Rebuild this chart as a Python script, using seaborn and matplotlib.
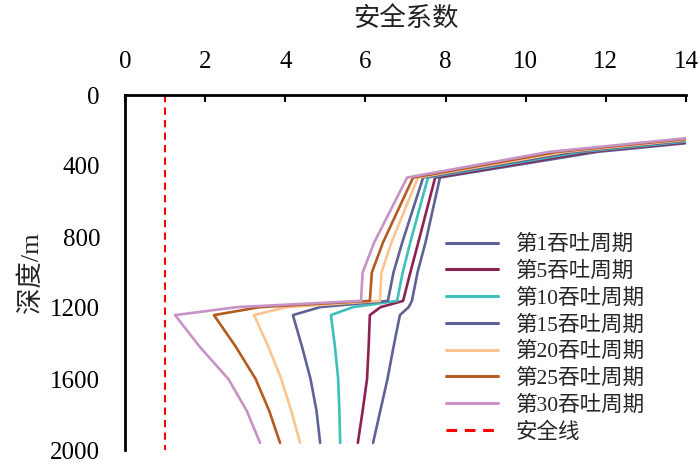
import numpy as np
import pandas as pd
import matplotlib
matplotlib.use("Agg")
import matplotlib.pyplot as plt
import seaborn as sns

# ---- data ----
depth = [230, 320, 465, 830, 1000, 1160, 1195, 1240, 1420, 1600, 1780, 1960]
series_names = ["第1吞吐周期", "第5吞吐周期", "第10吞吐周期", "第15吞吐周期",
                "第20吞吐周期", "第25吞吐周期", "第30吞吐周期"]
sf_c1 = [15.90, 11.80, 7.86, 7.50, 7.30, 7.16, 7.08, 6.86, 6.70, 6.55, 6.37, 6.19]
sf_c5 = [15.65, 11.60, 7.74, 7.32, 7.12, 6.94, 6.38, 6.11, 6.08, 6.04, 5.93, 5.81]
sf_c10 = [15.45, 11.40, 7.56, 7.12, 6.93, 6.79, 5.69, 5.14, 5.24, 5.32, 5.35, 5.37]
sf_c15 = [15.20, 11.20, 7.44, 6.92, 6.70, 6.56, 4.87, 4.19, 4.42, 4.63, 4.78, 4.87]
sf_c20 = [15.00, 11.00, 7.31, 6.65, 6.40, 6.36, 4.04, 3.22, 3.58, 3.90, 4.15, 4.37]
sf_c25 = [14.80, 10.80, 7.19, 6.44, 6.16, 6.11, 3.37, 2.22, 2.77, 3.26, 3.60, 3.87]
sf_c30 = [14.60, 10.60, 7.04, 6.22, 5.93, 5.89, 2.80, 1.25, 1.87, 2.58, 3.04, 3.37]
safety_x = [1, 1]
safety_depth = [0, 2000]
x_ticks = [0, 2, 4, 6, 8, 10, 12, 14]
y_ticks = [0, 400, 800, 1200, 1600, 2000]

colors = ["#5F6296", "#8E2154", "#3DC0BB", "#5F6296", "#FCC48F", "#B45B22", "#C793C6"]

all_sf = [sf_c1, sf_c5, sf_c10, sf_c15, sf_c20, sf_c25, sf_c30]
rows = []
for name, vals in zip(series_names, all_sf):
    for d, v in zip(depth, vals):
        rows.append({"series": name, "depth": d, "sf": v})
df = pd.DataFrame(rows)
df_safe = pd.DataFrame({"depth": safety_depth, "sf": safety_x, "series": "安全线"})

sns.set_theme(style="white")
plt.rcParams['font.family'] = ['Liberation Serif', 'Noto Sans CJK SC']
plt.rcParams['axes.unicode_minus'] = False

fig = plt.figure(figsize=(7, 4.69), dpi=100)
ax = fig.add_axes([125/700, 1-450/469, (686-125)/700, (450-95)/469])

sns.lineplot(data=df, x="sf", y="depth", hue="series", hue_order=series_names,
             palette=colors, sort=False, estimator=None, orient="y",
             linewidth=1.9, ax=ax)
sns.lineplot(data=df_safe, x="sf", y="depth", color="#FF0000", linestyle=(0, (3.5, 2.5)),
             linewidth=1.5, sort=False, estimator=None, orient="y", ax=ax, label="安全线")

ax.set_xlim(0, 14)
ax.set_ylim(2000, 0)
ax.set_xticks(x_ticks)
ax.set_yticks(y_ticks)
ax.set_xticklabels([str(t) for t in x_ticks])
ax.set_yticklabels([str(t) for t in y_ticks])

ax.xaxis.tick_top()
ax.xaxis.set_label_position("top")
ax.tick_params(axis="x", direction="in", length=5, width=1.5, pad=16, labelsize=18, colors="black")
ax.tick_params(axis="y", direction="in", length=5, width=1.5, pad=18, labelsize=18, colors="black")
for s in ["right", "bottom"]:
    ax.spines[s].set_visible(False)
for s in ["top", "left"]:
    ax.spines[s].set_visible(True)
    ax.spines[s].set_linewidth(2)
    ax.spines[s].set_color("black")

ax.set_xlabel("安全系数", fontsize=19, labelpad=18, color="#222222")
ax.set_ylabel("深度/m", fontsize=19, labelpad=5, color="#222222")

leg = ax.legend(loc="upper left", bbox_to_anchor=((446-125)/561, 1-(235-95)/355),
                frameon=False, fontsize=15.5, handlelength=2.4, handletextpad=0.85,
                labelspacing=0.3, borderaxespad=0, borderpad=0)
for line in leg.get_lines():
    line.set_linewidth(2.2)

fig.savefig("out.png", dpi=100)
